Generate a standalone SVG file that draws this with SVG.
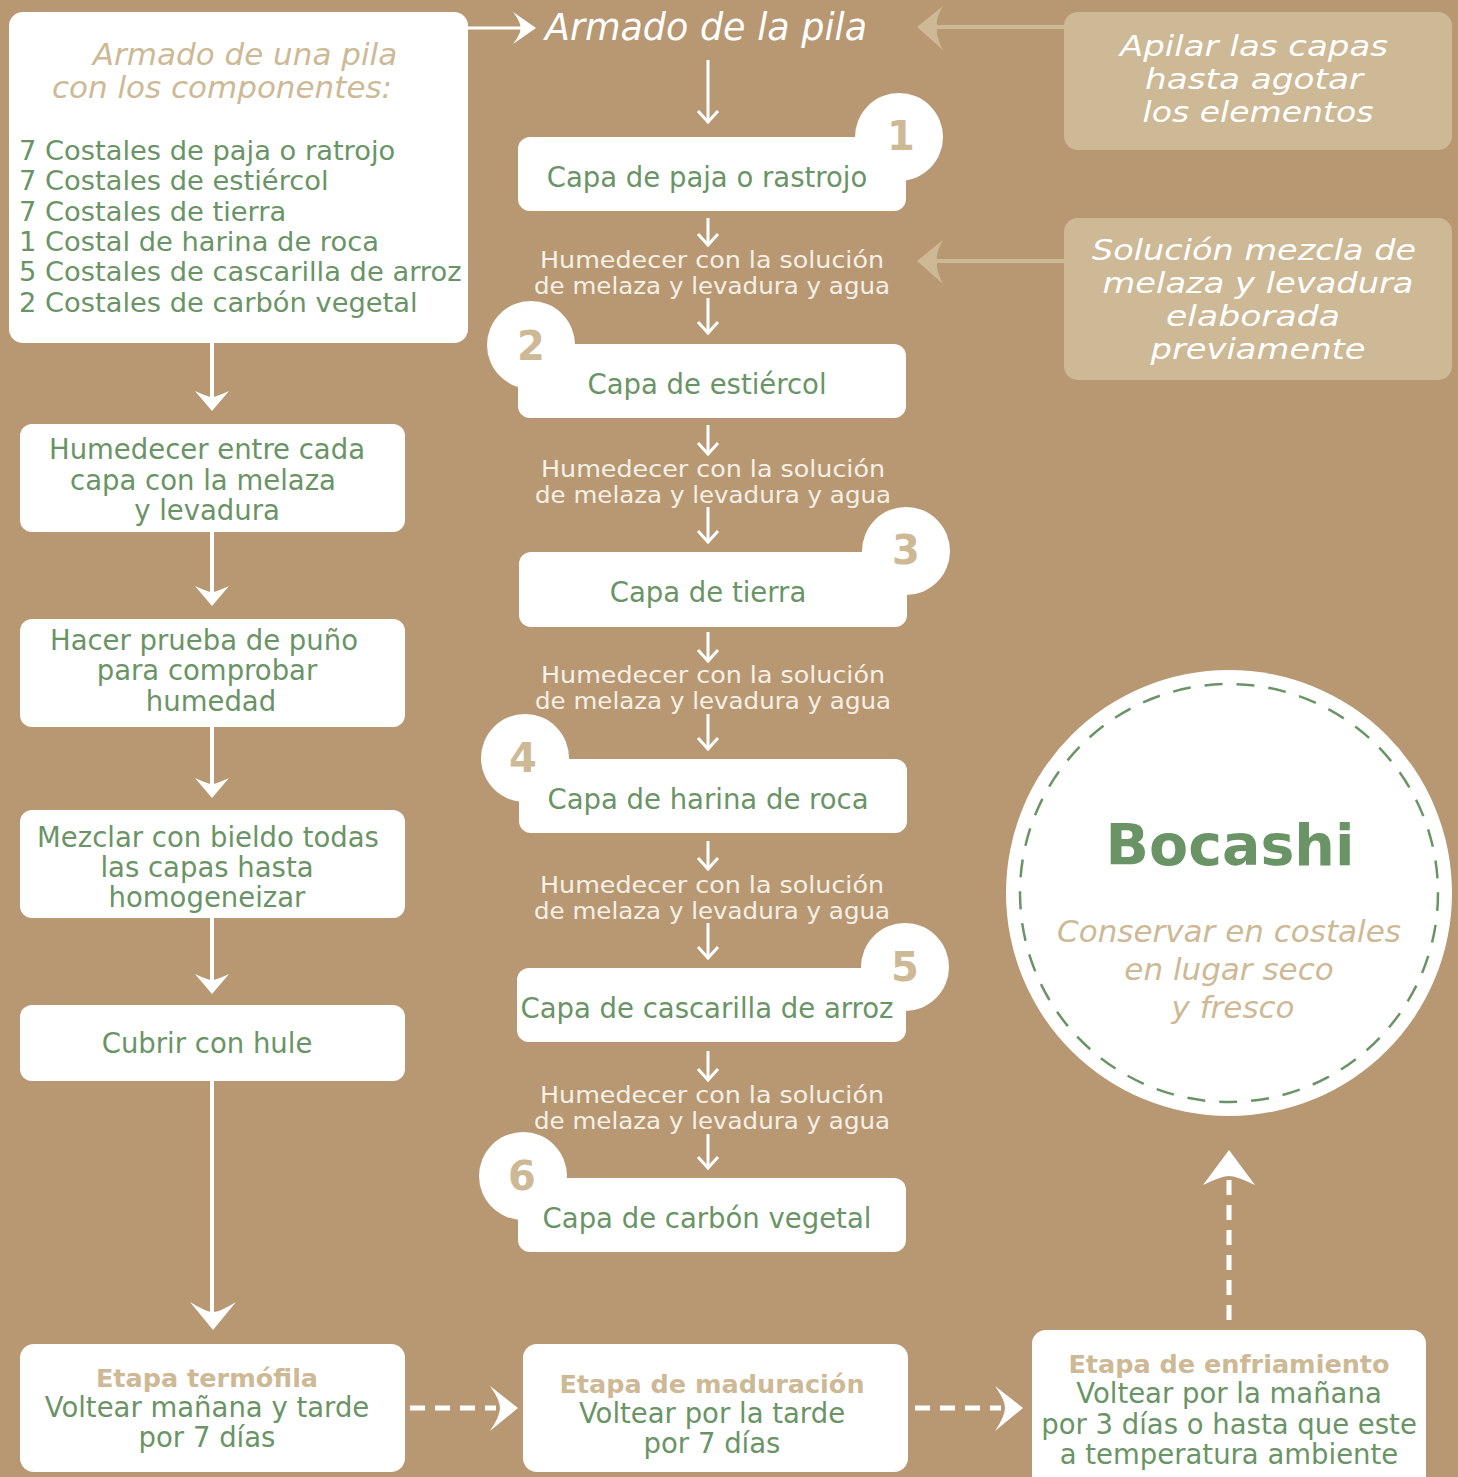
<svg xmlns="http://www.w3.org/2000/svg" width="1458" height="1477" viewBox="0 0 1458 1477">
<style>
.bg{fill:#b89872}
.box{fill:#ffffff}
.note{fill:#cdb995}
.t{font-family:"DejaVu Sans","Open Sans",sans-serif;fill:#6a9466;font-size:27.5px;text-anchor:middle}
.tl{font-family:"DejaVu Sans","Open Sans",sans-serif;fill:#6a9466;font-size:27.3px}
.it{font-family:"DejaVu Sans","Open Sans",sans-serif;font-style:italic;font-size:31px;text-anchor:middle}
.itn{font-family:"DejaVu Sans","Open Sans",sans-serif;font-style:italic;font-size:28px;text-anchor:middle;fill:#ffffff}
.hum{font-family:"DejaVu Sans","Open Sans",sans-serif;fill:#f6f0e6;font-size:22.5px;text-anchor:middle}
.num{font-family:"DejaVu Sans","Open Sans",sans-serif;fill:#cdb995;font-size:40px;font-weight:bold;text-anchor:middle}
.hd{font-family:"DejaVu Sans","Open Sans",sans-serif;fill:#cdb995;font-size:25.5px;font-weight:bold;text-anchor:middle}
.ln{stroke:#ffffff;stroke-width:3;fill:none}
.lnb{stroke:#ffffff;stroke-width:4;fill:none}
.dash{stroke:#ffffff;stroke-width:5;fill:none;stroke-dasharray:15 10}
.ah{fill:#ffffff}
.ahb{fill:#cdb995}
</style>
<rect class="bg" x="0" y="0" width="1458" height="1477"/>

<g id="connectors">
  <line class="ln" x1="466" y1="28" x2="530" y2="28"/>
  <path class="ah" d="M536,28 L513,12 Q522,24 520,28 Q522,32 513,44 Z"/>
  <line x1="936" y1="27" x2="1066" y2="27" stroke="#cdb995" stroke-width="4"/>
  <path class="ahb" d="M917,27 L943,6 Q934,22 938,27 Q934,32 943,50 Z"/>
  <line x1="936" y1="261" x2="1066" y2="261" stroke="#cdb995" stroke-width="4"/>
  <path class="ahb" d="M917,261 L943,240 Q934,256 938,261 Q934,266 943,284 Z"/>
  <line class="ln" x1="708" y1="60" x2="708" y2="122"/>
  <polyline class="ln" points="698,111 708,122 718,111"/>
  <line class="ln" x1="708" y1="218" x2="708" y2="245"/>
  <polyline class="ln" points="698,234 708,245 718,234"/>
  <line class="ln" x1="708" y1="298" x2="708" y2="333"/>
  <polyline class="ln" points="698,322 708,333 718,322"/>
  <line class="ln" x1="708" y1="425" x2="708" y2="454"/>
  <polyline class="ln" points="698,443 708,454 718,443"/>
  <line class="ln" x1="708" y1="507" x2="708" y2="542"/>
  <polyline class="ln" points="698,531 708,542 718,531"/>
  <line class="ln" x1="708" y1="632" x2="708" y2="661"/>
  <polyline class="ln" points="698,650 708,661 718,650"/>
  <line class="ln" x1="708" y1="714" x2="708" y2="749"/>
  <polyline class="ln" points="698,738 708,749 718,738"/>
  <line class="ln" x1="708" y1="841" x2="708" y2="869"/>
  <polyline class="ln" points="698,858 708,869 718,858"/>
  <line class="ln" x1="708" y1="923" x2="708" y2="958"/>
  <polyline class="ln" points="698,947 708,958 718,947"/>
  <line class="ln" x1="708" y1="1051" x2="708" y2="1080"/>
  <polyline class="ln" points="698,1069 708,1080 718,1069"/>
  <line class="ln" x1="708" y1="1134" x2="708" y2="1168"/>
  <polyline class="ln" points="698,1157 708,1168 718,1157"/>
  <line class="lnb" x1="212" y1="343" x2="212" y2="400"/>
  <path class="ah" d="M212,411 L195,391 Q208,397 212,397 Q216,397 229,391 Z"/>
  <line class="lnb" x1="212" y1="532" x2="212" y2="595"/>
  <path class="ah" d="M212,606 L195,586 Q208,592 212,592 Q216,592 229,586 Z"/>
  <line class="lnb" x1="212" y1="727" x2="212" y2="787"/>
  <path class="ah" d="M212,798 L195,778 Q208,784 212,784 Q216,784 229,778 Z"/>
  <line class="lnb" x1="212" y1="918" x2="212" y2="983"/>
  <path class="ah" d="M212,994 L195,974 Q208,980 212,980 Q216,980 229,974 Z"/>
  <line class="lnb" x1="212" y1="1081" x2="212" y2="1312"/>
  <path class="ah" d="M213,1330 L190,1302 Q206,1312 213,1312 Q220,1312 236,1302 Z"/>
  <line class="dash" x1="410" y1="1408" x2="496" y2="1408"/>
  <path class="ah" d="M518,1408 L490,1386 Q500,1400 500,1408 Q500,1416 490,1431 Z"/>
  <line class="dash" x1="915" y1="1408" x2="1001" y2="1408"/>
  <path class="ah" d="M1023,1408 L995,1386 Q1005,1400 1005,1408 Q1005,1416 995,1431 Z"/>
  <line class="dash" x1="1229" y1="1320" x2="1229" y2="1175"/>
  <path class="ah" d="M1229,1150 L1203,1185 Q1222,1176 1229,1176 Q1236,1176 1255,1185 Z"/>
</g>

<g id="components">
  <rect class="box" x="9" y="12" width="459" height="331" rx="14"/>
  <text class="it" fill="#cdb995" x="245" y="65">Armado de una pila</text>
  <text class="it" fill="#cdb995" x="222" y="98">con los componentes:</text>
  <text class="tl" x="19" y="160">7 Costales de paja o ratrojo</text>
  <text class="tl" x="19" y="190">7 Costales de estiércol</text>
  <text class="tl" x="19" y="221">7 Costales de tierra</text>
  <text class="tl" x="19" y="251">1 Costal de harina de roca</text>
  <text class="tl" x="19" y="281">5 Costales de cascarilla de arroz</text>
  <text class="tl" x="19" y="312">2 Costales de carbón vegetal</text>
</g>

<g id="armado-title">
  <text x="706" y="40" font-family="DejaVu Sans, Open Sans, sans-serif" font-style="italic" font-size="36.5" fill="#ffffff" text-anchor="middle">Armado de la pila</text>
</g>

<g id="note-apilar">
  <rect class="note" x="1064" y="12" width="388" height="138" rx="14"/>
  <text class="itn" x="1254" y="56" textLength="268" lengthAdjust="spacingAndGlyphs">Apilar las capas</text>
  <text class="itn" x="1254" y="89" textLength="218" lengthAdjust="spacingAndGlyphs">hasta agotar</text>
  <text class="itn" x="1258" y="122" textLength="231" lengthAdjust="spacingAndGlyphs">los elementos</text>
</g>

<g id="note-solucion">
  <rect class="note" x="1064" y="218" width="388" height="162" rx="14"/>
  <text class="itn" x="1254" y="260" textLength="324" lengthAdjust="spacingAndGlyphs">Solución mezcla de</text>
  <text class="itn" x="1258" y="293" textLength="311" lengthAdjust="spacingAndGlyphs">melaza y levadura</text>
  <text class="itn" x="1253" y="326" textLength="174" lengthAdjust="spacingAndGlyphs">elaborada</text>
  <text class="itn" x="1258" y="359" textLength="215" lengthAdjust="spacingAndGlyphs">previamente</text>
</g>

<g id="capa1">
  <rect class="box" x="518" y="137" width="388" height="74" rx="12"/>
  <circle class="box" cx="899" cy="137" r="44"/>
  <text class="t" x="707" y="187">Capa de paja o rastrojo</text>
  <text class="num" x="901" y="150">1</text>
</g>
<g id="hum1">
  <text class="hum" x="712" y="268" textLength="344" lengthAdjust="spacingAndGlyphs">Humedecer con la solución</text>
  <text class="hum" x="712" y="294" textLength="356" lengthAdjust="spacingAndGlyphs">de melaza y levadura y agua</text>
</g>

<g id="capa2">
  <rect class="box" x="518" y="344" width="388" height="74" rx="12"/>
  <circle class="box" cx="531" cy="345" r="44"/>
  <text class="t" x="707" y="394">Capa de estiércol</text>
  <text class="num" x="531" y="360">2</text>
</g>
<g id="hum2">
  <text class="hum" x="713" y="477" textLength="344" lengthAdjust="spacingAndGlyphs">Humedecer con la solución</text>
  <text class="hum" x="713" y="503" textLength="356" lengthAdjust="spacingAndGlyphs">de melaza y levadura y agua</text>
</g>

<g id="capa3">
  <rect class="box" x="519" y="552" width="388" height="75" rx="12"/>
  <circle class="box" cx="906" cy="551" r="44"/>
  <text class="t" x="708" y="602">Capa de tierra</text>
  <text class="num" x="906" y="564">3</text>
</g>
<g id="hum3">
  <text class="hum" x="713" y="683" textLength="344" lengthAdjust="spacingAndGlyphs">Humedecer con la solución</text>
  <text class="hum" x="713" y="709" textLength="356" lengthAdjust="spacingAndGlyphs">de melaza y levadura y agua</text>
</g>

<g id="capa4">
  <rect class="box" x="519" y="759" width="388" height="74" rx="12"/>
  <circle class="box" cx="525" cy="758" r="44"/>
  <text class="t" x="708" y="809">Capa de harina de roca</text>
  <text class="num" x="523" y="772">4</text>
</g>
<g id="hum4">
  <text class="hum" x="712" y="893" textLength="344" lengthAdjust="spacingAndGlyphs">Humedecer con la solución</text>
  <text class="hum" x="712" y="919" textLength="356" lengthAdjust="spacingAndGlyphs">de melaza y levadura y agua</text>
</g>

<g id="capa5">
  <rect class="box" x="517" y="968" width="389" height="74" rx="12"/>
  <circle class="box" cx="905" cy="967" r="44"/>
  <text class="t" x="707" y="1018">Capa de cascarilla de arroz</text>
  <text class="num" x="905" y="981">5</text>
</g>
<g id="hum5">
  <text class="hum" x="712" y="1103" textLength="344" lengthAdjust="spacingAndGlyphs">Humedecer con la solución</text>
  <text class="hum" x="712" y="1129" textLength="356" lengthAdjust="spacingAndGlyphs">de melaza y levadura y agua</text>
</g>

<g id="capa6">
  <rect class="box" x="518" y="1178" width="388" height="74" rx="12"/>
  <circle class="box" cx="523" cy="1176" r="44"/>
  <text class="t" x="707" y="1228">Capa de carbón vegetal</text>
  <text class="num" x="522" y="1190">6</text>
</g>

<g id="humedecer-entre">
  <rect class="box" x="20" y="424" width="385" height="108" rx="12"/>
  <text class="t" x="207" y="459">Humedecer entre cada</text>
  <text class="t" x="203" y="490">capa con la melaza</text>
  <text class="t" x="207" y="520">y levadura</text>
</g>

<g id="prueba-puno">
  <rect class="box" x="20" y="619" width="385" height="108" rx="12"/>
  <text class="t" x="204" y="650">Hacer prueba de puño</text>
  <text class="t" x="207" y="680">para comprobar</text>
  <text class="t" x="211" y="711">humedad</text>
</g>

<g id="mezclar">
  <rect class="box" x="20" y="810" width="385" height="108" rx="12"/>
  <text class="t" x="208" y="847">Mezclar con bieldo todas</text>
  <text class="t" x="207" y="877">las capas hasta</text>
  <text class="t" x="207" y="907">homogeneizar</text>
</g>

<g id="cubrir">
  <rect class="box" x="20" y="1005" width="385" height="76" rx="12"/>
  <text class="t" x="207" y="1053">Cubrir con hule</text>
</g>

<g id="termofila">
  <rect class="box" x="20" y="1344" width="385" height="128" rx="14"/>
  <text class="hd" x="207" y="1387">Etapa termófila</text>
  <text class="t" x="207" y="1417">Voltear mañana y tarde</text>
  <text class="t" x="207" y="1447">por 7 días</text>
</g>

<g id="maduracion">
  <rect class="box" x="523" y="1344" width="385" height="128" rx="14"/>
  <text class="hd" x="712" y="1393">Etapa de maduración</text>
  <text class="t" x="712" y="1423">Voltear por la tarde</text>
  <text class="t" x="712" y="1453">por 7 días</text>
</g>

<g id="enfriamiento">
  <rect class="box" x="1032" y="1330" width="394" height="160" rx="14"/>
  <text class="hd" x="1229" y="1373">Etapa de enfriamiento</text>
  <text class="t" x="1229" y="1403">Voltear por la mañana</text>
  <text class="t" x="1229" y="1434">por 3 días o hasta que este</text>
  <text class="t" x="1229" y="1464">a temperatura ambiente</text>
</g>

<g id="bocashi">
  <circle class="box" cx="1229" cy="893" r="223"/>
  <circle cx="1229" cy="893" r="209" fill="none" stroke="#6a9466" stroke-width="2.5" stroke-dasharray="18 14"/>
  <text x="1230" y="865" font-family="DejaVu Sans, Open Sans, sans-serif" font-weight="bold" font-size="57" fill="#6a9466" text-anchor="middle">Bocashi</text>
  <text class="it" fill="#cdb995" font-size="34" x="1229" y="942">Conservar en costales</text>
  <text class="it" fill="#cdb995" font-size="34" x="1229" y="980">en lugar seco</text>
  <text class="it" fill="#cdb995" font-size="34" x="1233" y="1018">y fresco</text>
</g>
</svg>
